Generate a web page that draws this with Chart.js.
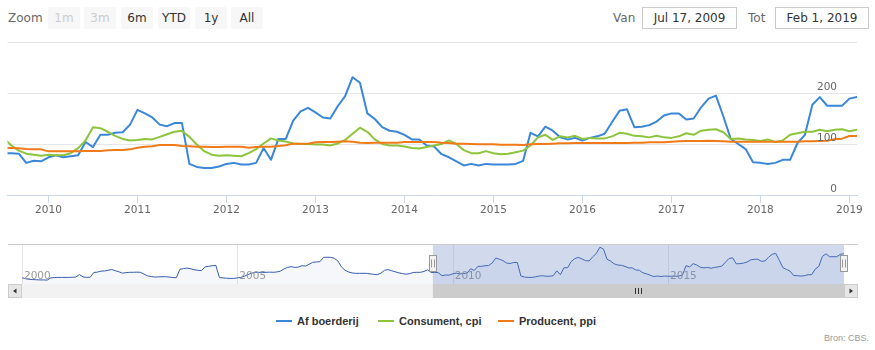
<!DOCTYPE html>
<html>
<head>
<meta charset="utf-8">
<script src="https://cdn.jsdelivr.net/npm/chart.js@4/dist/chart.umd.min.js"></script>
<style>
  html, body { margin: 0; padding: 0; background: #fff; }
  #wrap { position: relative; width: 875px; height: 350px; overflow: hidden; font-family: "DejaVu Sans", sans-serif; }
  canvas { position: absolute; left: 0; }
  #main { top: 0; }
  #nav { top: 240px; }
  .lbl { position: absolute; top: 7px; height: 22px; line-height: 22px; font-size: 12px; color: #666; }
  .btn { position: absolute; top: 7px; width: 32px; height: 22px; line-height: 22px; background: #f7f7f7;
         border-radius: 2px; text-align: center; font-size: 12px; color: #333; }
  .btn.off { color: #ccc; }
  .box { position: absolute; top: 7px; height: 20px; line-height: 20px; border: 1px solid #ccc; background: #fff;
         text-align: center; font-size: 12px; color: #333; }
  .leg { position: absolute; top: 313px; height: 16px; line-height: 16px; font-family: "Liberation Sans", Arial, sans-serif;
         font-weight: bold; font-size: 11px; color: #333; white-space: nowrap; }
  .legsym { position: absolute; width: 16px; height: 2px; top: 320px; }
  #credit { position: absolute; right: 6px; top: 333px; font-family: "Liberation Sans", Arial, sans-serif; font-size: 9px; color: #999; }
</style>
</head>
<body>
<div id="wrap">
  <div class="lbl" style="left:8px;">Zoom</div>
  <div class="btn off" style="left:48px;">1m</div>
  <div class="btn off" style="left:84px;">3m</div>
  <div class="btn" style="left:121px;">6m</div>
  <div class="btn" style="left:158px;">YTD</div>
  <div class="btn" style="left:195px;">1y</div>
  <div class="btn" style="left:231px;">All</div>
  <div class="lbl" style="left:613px;">Van</div>
  <div class="box" style="left:642px;width:93px;">Jul 17, 2009</div>
  <div class="lbl" style="left:748px;">Tot</div>
  <div class="box" style="left:775px;width:92px;">Feb 1, 2019</div>
  <canvas id="main" width="875" height="220"></canvas>
  <canvas id="nav" width="875" height="60"></canvas>
  <div id="legend"></div>
  <div id="credit">Bron: CBS.</div>
</div>
<script>
// Monthly index series (first value = January 2000)
const afBoerderijStart = [2000, 0];
const afBoerderij = [
  51, 45, 42, 40, 39, 38, 38, 37, 50, 52, 53, 53,            // 2000
  53, 53, 54, 55, 70, 56, 53, 54, 82, 84, 90, 91,            // 2001
  95, 100, 92, 86, 78, 81, 83, 83, 84, 83, 72, 62,           // 2002
  58, 55, 56, 57, 57, 55, 52, 51, 101, 105, 108, 104,        // 2003
  98, 95, 93, 115, 118, 122, 124, 52, 50, 48, 47, 47,        // 2004
  50, 53, 60, 70, 78, 83, 83, 82, 83, 84, 83, 85,            // 2005
  90, 103, 112, 116, 112, 114, 122, 120, 130, 142, 144, 146, // 2006
  171, 172, 171, 166, 150, 115, 95, 85, 79, 77, 77, 77,      // 2007
  77, 74, 71, 69, 78, 95, 99, 92, 86, 80, 75, 72,            // 2008
  75, 82, 83, 83, 88, 98, 82, 82, 81, 63, 67, 66,            // 2009
  74, 78, 74, 76, 78, 104, 94, 118, 118, 122, 123, 138,      // 2010
  167, 160, 152, 138, 135, 141, 141, 61, 55, 53, 53, 56,     // 2011
  61, 63, 60, 60, 63, 92, 69, 110, 110, 146, 164, 171,       // 2012
  162, 152, 150, 174, 194, 231, 220, 160, 149, 133, 126, 124,// 2013
  118, 109, 109, 97, 95, 80, 74, 66, 58, 61, 58, 61,         // 2014
  60, 60, 60, 61, 67, 122, 115, 134, 126, 113, 109, 112,     // 2015
  107, 112, 115, 120, 143, 165, 168, 133, 134, 137, 144, 156,// 2016
  160, 160, 148, 150, 172, 189, 195, 154, 110, 100, 90, 64,  // 2017
  63, 61, 63, 69, 69, 102, 118, 177, 192, 175, 175, 175,     // 2018
  189, 192                                                   // 2019
];

// Monthly series starting July 2009
const priceSeriesStart = [2009, 6];
const consumentCpi = [
  111, 97, 87, 81, 79, 77,                                   // 2009
  79, 78, 78, 82, 92, 107, 133, 131, 124, 116, 110, 107,     // 2010
  108, 110, 109, 114, 119, 124, 126, 114, 99, 86, 79, 77,    // 2011
  78, 77, 76, 82, 90, 101, 111, 107, 105, 101, 100, 100,     // 2012
  99, 99, 97, 101, 108, 120, 132, 124, 109, 100, 97, 97,     // 2013
  95, 92, 91, 94, 97, 100, 107, 100, 88, 82, 82, 86,         // 2014
  82, 80, 81, 84, 87, 97, 113, 118, 108, 115, 113, 116,      // 2015
  110, 112, 111, 111, 115, 122, 120, 116, 115, 113, 116, 113,// 2016
  112, 115, 121, 118, 126, 128, 129, 123, 110, 111, 109, 108,// 2017
  106, 109, 104, 107, 118, 121, 124, 124, 128, 125, 128, 129,// 2018
  125, 128                                                   // 2019
];
const producentPpi = [
  92, 92, 91.5, 90, 89.5, 89.5,                                              // 2009
  85.6, 86, 86, 86, 86, 86.5, 86.5, 86.5, 87.6, 88.2, 88.2, 89.5,            // 2010
  92.8, 94.8, 95.4, 98, 98, 98, 96.1, 95.4, 94.8, 94.8, 94.1, 94.1,          // 2011
  94.8, 94.8, 94.8, 92.8, 94.1, 94.8, 94.8, 96.1, 97.4, 100.7, 100.7, 100.7, // 2012
  103.3, 103.9, 103.9, 104.6, 105.2, 104.6, 102.6, 102, 102.6, 102.6, 102.6, 102.6, // 2013
  103.9, 103.9, 103.9, 103.9, 103.9, 102.6, 102, 100.7, 100.7, 100, 99.3, 99.3,     // 2014
  99.3, 98.7, 98.7, 98.7, 98, 99.3, 100, 100, 100.7, 101.3, 101.3, 102,      // 2015
  102, 102, 102, 102, 102, 102, 102, 102.6, 102.6, 103.3, 103.3, 103.3,      // 2016
  104.6, 105.2, 105.9, 105.9, 105.9, 106.5, 105.9, 105.2, 104.6, 104.6, 104.6, 104.6, // 2017
  104.6, 104.6, 104.6, 104.6, 104.6, 104.6, 105.2, 105.2, 105.9, 106.5, 109.2, 110.5, // 2018
  115.7, 115.7                                                               // 2019
];

const seriesNames = ['Af boerderij', 'Consument, cpi', 'Producent, ppi'];
const seriesColors = ['#3a87d9', '#8cc43c', '#ef7a17'];

// Visible window: Jul 17, 2009 – Feb 1, 2019 (decimal years)
const viewFrom = 2009 + 197 / 365;
const viewTo = 2019 + 31 / 365;
const xTickYears = [2010, 2011, 2012, 2013, 2014, 2015, 2016, 2017, 2018, 2019];
const yTickValues = [0, 100, 200];
const navTickYears = [2000, 2005, 2010, 2015];

function monthly(values, start) {
  return values.map((v, i) => ({ x: start[0] + (start[1] + i) / 12, y: v }));
}

const lineStyle = { pointRadius: 0, borderWidth: 2, tension: 0, borderJoinStyle: 'round', borderCapStyle: 'round',
                    clip: { left: 0, right: 0, top: 5, bottom: 5 } };

// y-axis labels sit just above their grid lines, right-aligned inside the plot
const yLabels = {
  id: 'yLabels',
  afterDraw(chart) {
    const { ctx, chartArea: a, scales: { y } } = chart;
    ctx.save();
    ctx.font = '10.5px "DejaVu Sans"';
    ctx.fillStyle = '#666';
    ctx.textAlign = 'right';
    ctx.textBaseline = 'middle';
    yTickValues.forEach(v => ctx.fillText(String(v), a.right - 20, y.getPixelForValue(v) - 6));
    ctx.restore();
  }
};

new Chart(document.getElementById('main'), {
  type: 'line',
  data: {
    datasets: [
      { label: seriesNames[0], data: monthly(afBoerderij, afBoerderijStart), borderColor: seriesColors[0], order: 2, ...lineStyle },
      { label: seriesNames[1], data: monthly(consumentCpi, priceSeriesStart), borderColor: seriesColors[1], order: 1, ...lineStyle },
      { label: seriesNames[2], data: monthly(producentPpi, priceSeriesStart), borderColor: seriesColors[2], order: 0, ...lineStyle }
    ]
  },
  options: {
    responsive: false, animation: false, devicePixelRatio: 1,
    layout: { padding: { left: 7.5, right: 18, top: 42, bottom: 0 } },
    plugins: { legend: { display: false }, tooltip: { enabled: false } },
    scales: {
      x: {
        type: 'linear', min: viewFrom, max: viewTo,
        afterBuildTicks: s => { s.ticks = xTickYears.map(v => ({ value: v })); },
        afterFit: s => { s.paddingLeft = 0; s.paddingRight = 0; s.height = 25; },
        grid: { drawOnChartArea: false, drawTicks: true, tickLength: 8, color: '#ccd6eb' },
        border: { display: true, color: '#ccd6eb' },
        ticks: { padding: 1, color: '#666', font: { family: 'DejaVu Sans', size: 10.5 }, maxRotation: 0, autoSkip: false,
                 callback: v => String(v) }
      },
      y: {
        position: 'right', min: 0, max: 300,
        ticks: { stepSize: 100, display: false },
        grid: { color: '#e6e6e6', drawTicks: false },
        border: { display: false },
        afterFit: s => { s.width = 0; }
      }
    }
  },
  plugins: [yLabels]
});

// Navigator: overview series, selection mask, handles and scrollbar
const navigatorDecor = {
  id: 'navigatorDecor',
  beforeDatasetsDraw(chart) {
    const { ctx, chartArea: a, scales: { x } } = chart;
    ctx.save();
    ctx.strokeStyle = '#e6e6e6';
    ctx.lineWidth = 1;
    navTickYears.forEach(yr => {
      const px = Math.round(x.getPixelForValue(yr)) + 0.5;
      ctx.beginPath(); ctx.moveTo(px, a.top); ctx.lineTo(px, a.bottom); ctx.stroke();
    });
    ctx.restore();
  },
  afterDatasetsDraw(chart) {
    const { ctx, chartArea: a, scales: { x } } = chart;
    const from = x.getPixelForValue(viewFrom);
    const to = x.getPixelForValue(viewTo);
    ctx.save();
    ctx.fillStyle = '#999';
    ctx.font = '10.5px "DejaVu Sans"';
    ctx.textAlign = 'left';
    ctx.textBaseline = 'middle';
    navTickYears.forEach(yr => ctx.fillText(String(yr), x.getPixelForValue(yr) + 2, a.top + 32));

    ctx.fillStyle = 'rgba(102,133,194,0.3)';
    ctx.fillRect(from, a.top, to - from, a.bottom - a.top);

    const btnW = 14, sbTop = a.bottom, sbH = 14;
    ctx.strokeStyle = '#ccc';
    ctx.lineWidth = 1;
    ctx.beginPath(); ctx.moveTo(a.left - btnW, a.top + 0.5); ctx.lineTo(a.right + btnW, a.top + 0.5); ctx.stroke();

    // scrollbar track and thumb
    ctx.fillStyle = '#f2f2f2';
    ctx.fillRect(a.left, sbTop, a.right - a.left, sbH);
    ctx.fillStyle = '#ccc';
    ctx.fillRect(from, sbTop, to - from, sbH);
    const mid = Math.round((from + to) / 2) + 0.5;
    ctx.strokeStyle = '#333';
    [-3, 0, 3].forEach(d => { ctx.beginPath(); ctx.moveTo(mid + d, sbTop + 4); ctx.lineTo(mid + d, sbTop + 10); ctx.stroke(); });

    // scrollbar buttons
    [[a.left - btnW, -1], [a.right, 1]].forEach(([bx, dir]) => {
      ctx.fillStyle = '#e6e6e6';
      ctx.fillRect(bx, sbTop, btnW, sbH);
      ctx.strokeStyle = '#ccc';
      ctx.strokeRect(bx + 0.5, sbTop + 0.5, btnW - 1, sbH - 1);
      const cx = bx + btnW / 2, cy = sbTop + sbH / 2;
      ctx.fillStyle = '#333';
      ctx.beginPath();
      ctx.moveTo(cx + 2 * dir, cy);
      ctx.lineTo(cx - 1.5 * dir, cy - 2.5);
      ctx.lineTo(cx - 1.5 * dir, cy + 2.5);
      ctx.closePath();
      ctx.fill();
    });

    // handles
    [from, to].forEach(px => {
      const rx = Math.round(px) - 3.5, ry = a.top + 11.5;
      ctx.fillStyle = '#f2f2f2';
      ctx.fillRect(rx, ry, 7, 16);
      ctx.strokeStyle = '#999';
      ctx.strokeRect(rx, ry, 7, 16);
      [2, 5].forEach(d => { ctx.beginPath(); ctx.moveTo(rx + d, ry + 4); ctx.lineTo(rx + d, ry + 12); ctx.stroke(); });
    });
    ctx.restore();
  }
};

new Chart(document.getElementById('nav'), {
  type: 'line',
  data: {
    datasets: [{
      data: monthly(afBoerderij, afBoerderijStart),
      borderColor: '#335cad', borderWidth: 1, pointRadius: 0, tension: 0,
      fill: 'start', backgroundColor: 'rgba(51,92,173,0.05)'
    }]
  },
  options: {
    responsive: false, animation: false, devicePixelRatio: 1,
    layout: { padding: { left: 22, right: 31, top: 4, bottom: 16 } },
    plugins: { legend: { display: false }, tooltip: { enabled: false } },
    scales: {
      x: { type: 'linear', display: false, min: 2000, max: viewTo },
      y: { display: false, min: 14, max: 250 }
    }
  },
  plugins: [navigatorDecor]
});

// Legend
const legendPos = [[276, 297], [378, 399], [498, 519]];
const legend = document.getElementById('legend');
seriesNames.forEach((name, i) => {
  const sym = document.createElement('div');
  sym.className = 'legsym';
  sym.style.left = legendPos[i][0] + 'px';
  sym.style.background = seriesColors[i];
  legend.appendChild(sym);
  const txt = document.createElement('div');
  txt.className = 'leg';
  txt.style.left = legendPos[i][1] + 'px';
  txt.textContent = name;
  legend.appendChild(txt);
});
</script>
</body>
</html>
